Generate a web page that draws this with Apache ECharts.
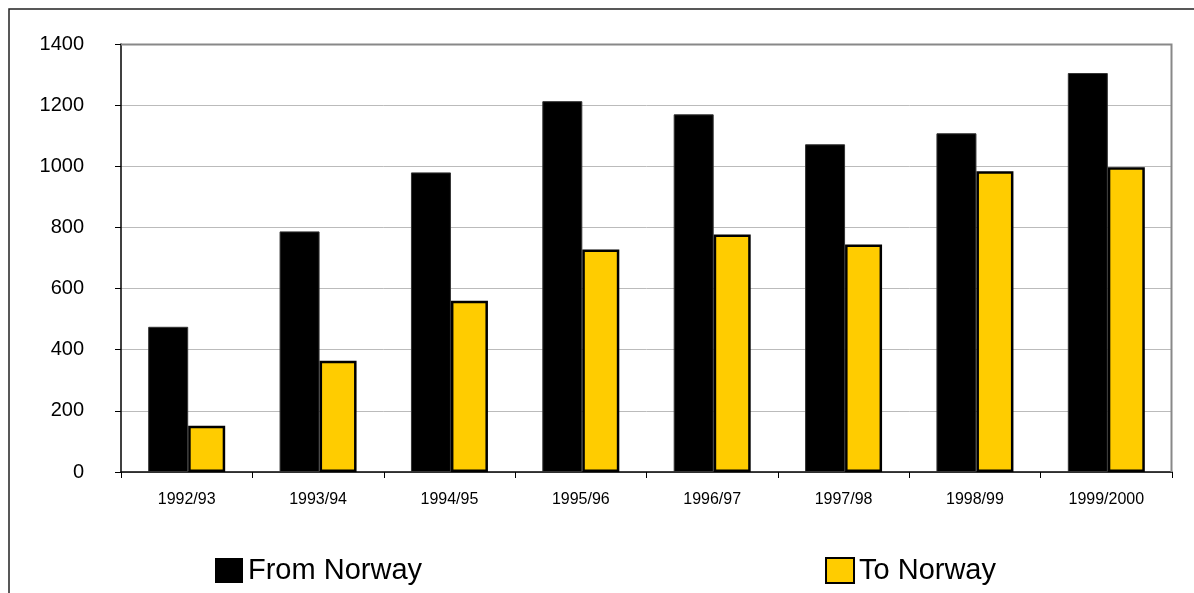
<!DOCTYPE html>
<html><head><meta charset="utf-8">
<script src="https://cdn.jsdelivr.net/npm/echarts@6/dist/echarts.min.js"></script>
<style>html,body{margin:0;padding:0;background:#fff}#c{width:1194px;height:593px}</style>
</head><body><div id="c"></div>
<script>
const categories = ['1992/93','1993/94','1994/95','1995/96','1996/97','1997/98','1998/99','1999/2000'];
const fromNorway = [475, 787, 980, 1213, 1170, 1072, 1108, 1305];
const toNorway = [151, 364, 560, 728, 777, 744, 984, 997];
const yTicks = [0, 200, 400, 600, 800, 1000, 1200, 1400];

const chart = echarts.init(document.getElementById('c'));
chart.setOption({
  animation: false,
  backgroundColor: '#fff',
  textStyle: { fontFamily: 'Liberation Sans, Arial, sans-serif' },
  graphic: [{
    type: 'rect', shape: { x: 9, y: 9, width: 1300, height: 700 },
    style: { fill: 'none', stroke: '#222', lineWidth: 1.5 }, silent: true
  }, {
    type: 'polyline', shape: { points: [[121, 44.5], [1171.5, 44.5], [1171.5, 472]] },
    style: { fill: 'none', stroke: '#888', lineWidth: 2 }, silent: true, z: 10
  }],
  legend: {
    left: 210, top: 551,
    icon: 'rect',
    itemWidth: 28, itemHeight: 25, itemGap: 403,
    textStyle: { fontSize: 29, color: '#000', fontFamily: 'Liberation Sans, Arial, sans-serif', padding: [0,0,0,0] },
    data: [
      { name: 'From Norway', itemStyle: { color: '#000', borderColor: '#000', borderWidth: 0 } },
      { name: 'To Norway', itemStyle: { color: '#FFCC00', borderColor: '#000', borderWidth: 2 } }
    ]
  },
  grid: { left: 121, right: 22, top: 44, bottom: 121, containLabel: false },
  xAxis: {
    type: 'category', data: categories,
    axisLine: { lineStyle: { color: '#000', width: 1.5 } },
    axisTick: { show: true, length: 6, lineStyle: { color: '#000' }, alignWithLabel: false },
    axisLabel: { color: '#000', fontSize: 16, margin: 20 }
  },
  yAxis: {
    type: 'value', min: 0, max: 1400, interval: 200,
    axisLine: { show: true, lineStyle: { color: '#000', width: 1.5 } },
    axisTick: { show: true, length: 6, inside: false, lineStyle: { color: '#000' } },
    axisLabel: { color: '#000', fontSize: 20, margin: 37,
      formatter: v => yTicks.includes(v) ? String(v) : '' },
    splitLine: { show: true, lineStyle: { color: '#bbb', width: 1 } }
  },
  series: [
    { name: 'From Norway', type: 'bar', data: fromNorway, barWidth: 40, barGap: '0%',
      itemStyle: { color: '#000', borderColor: '#333', borderWidth: 1 } },
    { name: 'To Norway', type: 'bar', data: toNorway, barWidth: 37, barGap: '0%',
      itemStyle: { color: '#FFCC00', borderColor: '#000', borderWidth: 2.5 } }
  ]
});
</script></body></html>
